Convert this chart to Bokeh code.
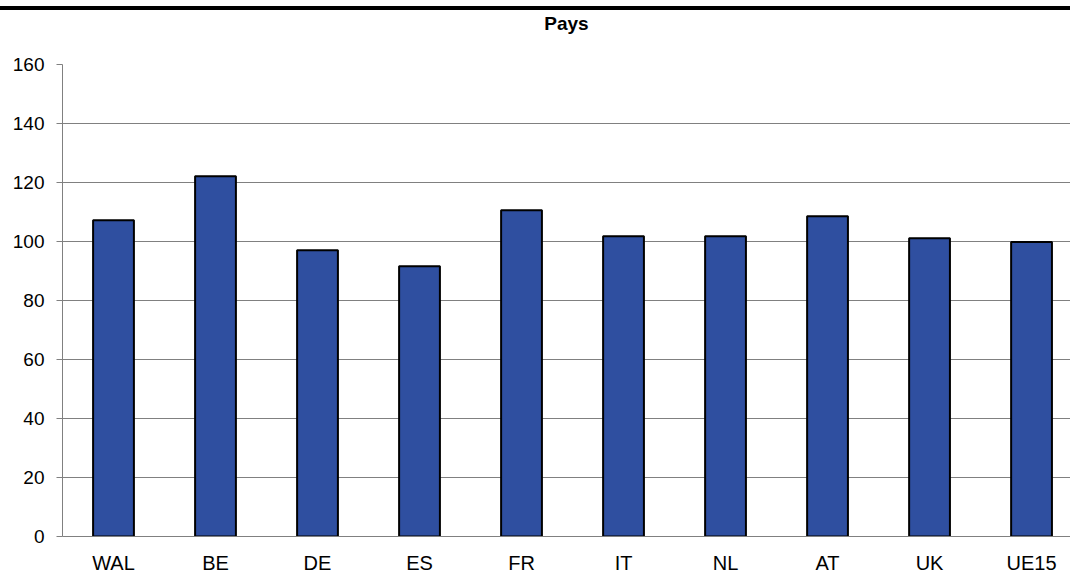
from bokeh.plotting import figure
from bokeh.models import Range1d, FixedTicker, Div, Title
from bokeh.layouts import column
from bokeh.embed import file_html
from bokeh.resources import INLINE

categories = ["WAL", "BE", "DE", "ES", "FR", "IT", "NL", "AT", "UK", "UE15"]
values = [107.2, 122.1, 97.0, 91.6, 110.6, 101.8, 101.8, 108.6, 101.1, 99.8]
y_ticks = [0, 20, 40, 60, 80, 100, 120, 140, 160]

xs = list(range(len(categories)))

p = figure(width=1070, height=566, output_backend="svg", toolbar_location=None,
           x_range=Range1d(-0.5, 9.382), y_range=Range1d(0, 160),
           min_border_left=62, min_border_right=0, min_border_top=54, min_border_bottom=40,
           title="Pays")
p.title.align = "center"
p.title.vertical_align = "top"
p.title.text_font = "Liberation Sans"
p.title.text_font_size = "19px"
p.title.text_font_style = "bold"
p.title.text_color = "black"
p.title.standoff = 0

# empty spacer between the title and the plot area
spacer = Title(text=" ", text_font_size="1px", standoff=26)
p.add_layout(spacer, "above")

p.vbar(x=xs, top=values, width=0.4, fill_color="#2F4FA0", line_color="black", line_width=2)

p.outline_line_color = None
p.background_fill_color = "white"
p.border_fill_color = "white"

p.yaxis.ticker = FixedTicker(ticks=y_ticks)
p.yaxis.axis_line_color = "#808080"
p.yaxis.major_tick_line_color = "#808080"
p.yaxis.major_tick_out = 6
p.yaxis.major_tick_in = 0
p.yaxis.minor_tick_line_color = None
p.yaxis.major_label_text_font = "Liberation Sans"
p.yaxis.major_label_text_font_size = "19px"
p.yaxis.major_label_text_color = "black"
p.yaxis.major_label_standoff = 12

p.xaxis.ticker = FixedTicker(ticks=xs)
p.xaxis.major_label_overrides = {i: c for i, c in zip(xs, categories)}
p.xaxis.axis_line_color = "#808080"
p.xaxis.major_tick_line_color = None
p.xaxis.major_tick_out = 0
p.xaxis.major_tick_in = 0
p.xaxis.minor_tick_line_color = None
p.xaxis.major_label_text_font = "Liberation Sans"
p.xaxis.major_label_text_font_size = "20px"
p.xaxis.major_label_text_color = "black"
p.xaxis.major_label_standoff = 15

p.xgrid.grid_line_color = None
p.ygrid.ticker = FixedTicker(ticks=y_ticks)
p.ygrid.grid_line_color = "#808080"
p.ygrid.grid_line_width = 1

bar = Div(width=1070, height=4, margin=(6, 0, 0, 0), styles={"background-color": "black"})
layout = column(bar, p, spacing=0)

open("out.html", "w").write(file_html(layout, INLINE))
